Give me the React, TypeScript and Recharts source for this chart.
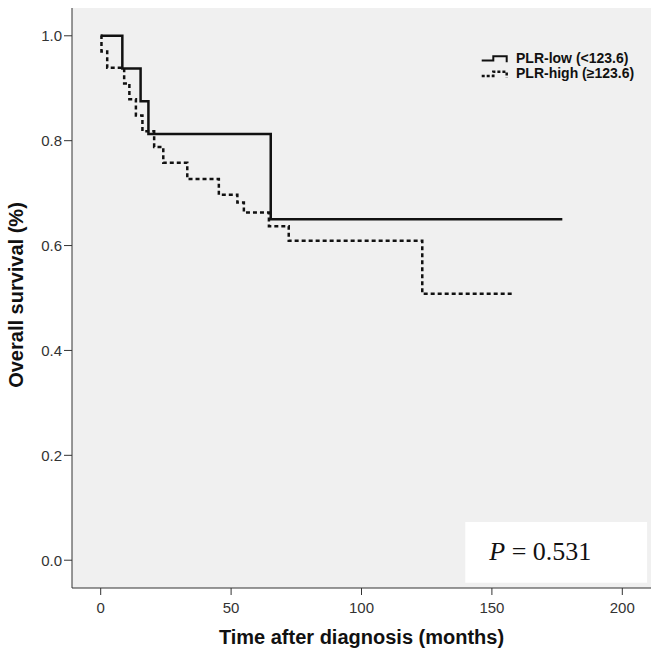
import React from "react";
import {
  LineChart,
  Line,
  XAxis,
  YAxis,
  CartesianGrid,
  ReferenceArea,
  Legend,
} from "recharts";

// Kaplan-Meier steps (months, survival proportion)
const lowTimes = [0, 8.3, 15.3, 18.3, 65.2, 177];
const lowSurvival = [1, 0.9375, 0.875, 0.8125, 0.65, 0.65];

const highTimes = [
  0, 0.3, 2.5, 9, 11, 13.5, 16, 20.5, 24, 33.2, 45.3, 52.4, 54.9, 64.5, 72.1,
  123.3, 157.9,
];
const highSurvival = [
  1, 0.97, 0.939, 0.909, 0.879, 0.848, 0.818, 0.788, 0.758, 0.727, 0.697,
  0.682, 0.663, 0.637, 0.609, 0.508, 0.508,
];

const seriesNames = ["PLR-low (<123.6)", "PLR-high (≥123.6)"];
const xTicks = [0, 50, 100, 150, 200];
const yTicks = [0, 0.2, 0.4, 0.6, 0.8, 1.0];
const pValue = "0.531";

const lowData = lowTimes.map((t, i) => ({ t, s: lowSurvival[i] }));
const highData = highTimes.map((t, i) => ({ t, s: highSurvival[i] }));

const FONT = '"Liberation Sans", Arial, sans-serif';
const X_DOMAIN = [-11, 211];
const Y_DOMAIN = [-0.053, 1.053];

const renderLegend = (props: any) => {
  const items = [...(props.payload || [])].sort(
    (a: any, b: any) => seriesNames.indexOf(a.value) - seriesNames.indexOf(b.value)
  );
  return (
    <svg width={174} height={36} style={{ display: "block" }}>
      {items.map((entry: any, i: number) => {
        const y0 = i * 15.5;
        const dotted = entry.value === seriesNames[1];
        return (
          <g key={entry.value}>
            <path
              d={`M3.7,${10.5 + y0}H15.3V${6.2 + y0}H28.7V${12.2 + y0}`}
              fill="none"
              stroke="#111"
              strokeWidth={dotted ? 2.5 : 2}
              strokeDasharray={dotted ? "3 2" : undefined}
            />
            <text
              x={38}
              y={12.5 + y0}
              fontFamily={FONT}
              fontWeight="bold"
              fontSize={14}
              fill="#111"
            >
              {entry.value}
            </text>
          </g>
        );
      })}
    </svg>
  );
};

const renderPLabel = (props: any) => {
  const { x, y } = props.viewBox;
  return (
    <text
      x={x + 24}
      y={y + 38.3}
      fontFamily='"Liberation Serif", "Times New Roman", serif'
      fontSize={26}
      fill="#111"
    >
      <tspan fontStyle="italic">P</tspan>
      <tspan> = {pValue}</tspan>
    </text>
  );
};

const renderYLabel = (props: any) => {
  const vb = props.viewBox;
  const cx = vb.x + 23;
  const cy = vb.y + vb.height / 2 - 3;
  return (
    <text
      x={cx}
      y={cy}
      transform={`rotate(-90 ${cx} ${cy})`}
      textAnchor="middle"
      fontFamily={FONT}
      fontWeight="bold"
      fontSize={20}
      fill="#111"
    >
      Overall survival (%)
    </text>
  );
};

const renderXLabel = (props: any) => {
  const vb = props.viewBox;
  return (
    <text
      x={vb.x + vb.width / 2}
      y={vb.y + 56}
      textAnchor="middle"
      fontFamily={FONT}
      fontWeight="bold"
      fontSize={20}
      fill="#111"
    >
      Time after diagnosis (months)
    </text>
  );
};

const tickStyle = { fontFamily: FONT, fontSize: 15, fill: "#333" };

export default function App() {
  return (
    <div style={{ position: "absolute", left: 0, top: 0, background: "#fff" }}>
      <LineChart
        width={661}
        height={654}
        margin={{ top: 8, right: 10, bottom: 0, left: 0 }}
      >
        <CartesianGrid horizontal={false} vertical={false} fill="#f0f0f0" />
        <XAxis
          dataKey="t"
          type="number"
          domain={X_DOMAIN}
          ticks={xTicks}
          allowDataOverflow
          height={66}
          tickSize={7}
          tickMargin={7}
          tick={tickStyle}
          stroke="#333"
          label={renderXLabel}
        />
        <XAxis
          xAxisId="top"
          orientation="top"
          type="number"
          domain={X_DOMAIN}
          height={0}
          tick={false}
          tickLine={false}
          stroke="#333"
        />
        <YAxis
          type="number"
          domain={Y_DOMAIN}
          ticks={yTicks}
          allowDataOverflow
          width={72}
          tickSize={8}
          tickMargin={2}
          tick={tickStyle}
          tickFormatter={(v: number) => v.toFixed(1)}
          stroke="#333"
          label={renderYLabel}
        />
        <YAxis
          yAxisId="right"
          orientation="right"
          type="number"
          domain={Y_DOMAIN}
          width={0}
          tick={false}
          tickLine={false}
          stroke="#333"
        />
        <ReferenceArea
          x1={139.8}
          x2={209.5}
          y1={-0.043}
          y2={0.073}
          fill="#ffffff"
          fillOpacity={1}
          stroke="none"
          label={renderPLabel}
        />
        <Line
          data={lowData}
          dataKey="s"
          name={seriesNames[0]}
          type="stepAfter"
          stroke="#111"
          strokeWidth={2.5}
          dot={false}
          activeDot={false}
          isAnimationActive={false}
        />
        <Line
          data={highData}
          dataKey="s"
          name={seriesNames[1]}
          type="stepAfter"
          stroke="#111"
          strokeWidth={2.5}
          strokeDasharray="4 3"
          dot={false}
          activeDot={false}
          isAnimationActive={false}
        />
        <Legend
          layout="horizontal"
          verticalAlign="middle"
          align="center"
          content={renderLegend}
          wrapperStyle={{ left: 478, top: 50, width: 174, height: 36 }}
        />
      </LineChart>
    </div>
  );
}
